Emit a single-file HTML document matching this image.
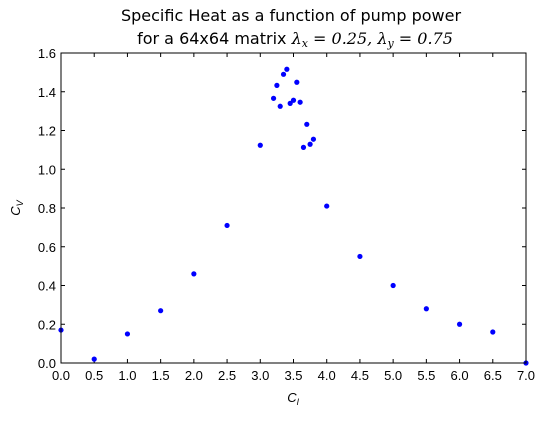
<!DOCTYPE html>
<html><head><meta charset="utf-8"><style>
body{margin:0;background:#fff;}
svg text{font-family:"Liberation Sans",sans-serif;}
</style></head><body>
<svg id="chart" width="547" height="416" xmlns="http://www.w3.org/2000/svg">
<text x="291" y="21" text-anchor="middle" font-size="16" style="font-family:'DejaVu Sans',sans-serif">Specific Heat as a function of pump power</text>
<text x="295" y="44" text-anchor="middle" font-size="16" style="font-family:'DejaVu Sans',sans-serif">for a 64x64 matrix <tspan style="font-family:'DejaVu Serif',serif" font-style="italic">λ<tspan font-size="11" dy="3">x</tspan><tspan dy="-3"> = 0.25, λ</tspan><tspan font-size="11" dy="3">y</tspan><tspan dy="-3"> = 0.75</tspan></tspan></text>
<g id="axes"></g>
<g id="points"></g>
<rect x="61" y="53" width="465" height="310" fill="none" stroke="#000" stroke-width="1"/>
<text x="293" y="402" text-anchor="middle" font-size="13" font-family="Liberation Serif" font-style="italic">C<tspan font-size="9" dy="3">l</tspan></text>
<text transform="translate(20,208) rotate(-90)" text-anchor="middle" font-size="13" font-family="Liberation Serif" font-style="italic">C<tspan font-size="9" dy="3">V</tspan></text>
</svg>
<script>
const xValues=[0,0.5,1,1.5,2,2.5,3,3.2,3.25,3.3,3.35,3.4,3.45,3.5,3.55,3.6,3.65,3.7,3.75,3.8,4,4.5,5,5.5,6,6.5,7];
const yValues=[0.17,0.02,0.15,0.27,0.46,0.71,1.124,1.366,1.433,1.325,1.49,1.516,1.34,1.356,1.449,1.346,1.113,1.232,1.129,1.155,0.81,0.55,0.40,0.28,0.20,0.16,0.0];
const xTicks=[0,0.5,1,1.5,2,2.5,3,3.5,4,4.5,5,5.5,6,6.5,7];
const yTicks=[0,0.2,0.4,0.6,0.8,1.0,1.2,1.4,1.6];
const L=61,R=526,T=53,B=363;
const sx=v=>L+(v-0)/(7-0)*(R-L);
const sy=v=>B-(v-0)/(1.6-0)*(B-T);
const NS="http://www.w3.org/2000/svg";
const axes=document.getElementById('axes');
const pts=document.getElementById('points');
function mk(tag,attrs,parent){const e=document.createElementNS(NS,tag);for(const k in attrs)e.setAttribute(k,attrs[k]);parent.appendChild(e);return e;}
xTicks.forEach(t=>{
  const x=sx(t);
  const a=mk('line',{x1:x,x2:x,y1:B,y2:B-4,stroke:'#000'},axes);
  
  
  const b=mk('line',{x1:x,x2:x,y1:T,y2:T+4,stroke:'#000'},axes);
  
  
  const tx=mk('text',{x:x,y:B+17,'text-anchor':'middle','font-size':13},axes);
  tx.textContent=t.toFixed(1);
  
  
});
yTicks.forEach(t=>{
  const y=sy(t);
  const a=mk('line',{x1:L,x2:L+4,y1:y,y2:y,stroke:'#000'},axes);
  
  
  const b=mk('line',{x1:R,x2:R-4,y1:y,y2:y,stroke:'#000'},axes);
  
  
  const tx=mk('text',{x:L-5,y:y+5,'text-anchor':'end','font-size':13},axes);
  tx.textContent=t.toFixed(1);
  
  
});
xValues.forEach((xv,i)=>{
  const c=mk('circle',{cx:sx(xv),cy:sy(yValues[i]),r:2.6,fill:'#0000ff'},pts);
  
  
});
</script>
</body></html>
